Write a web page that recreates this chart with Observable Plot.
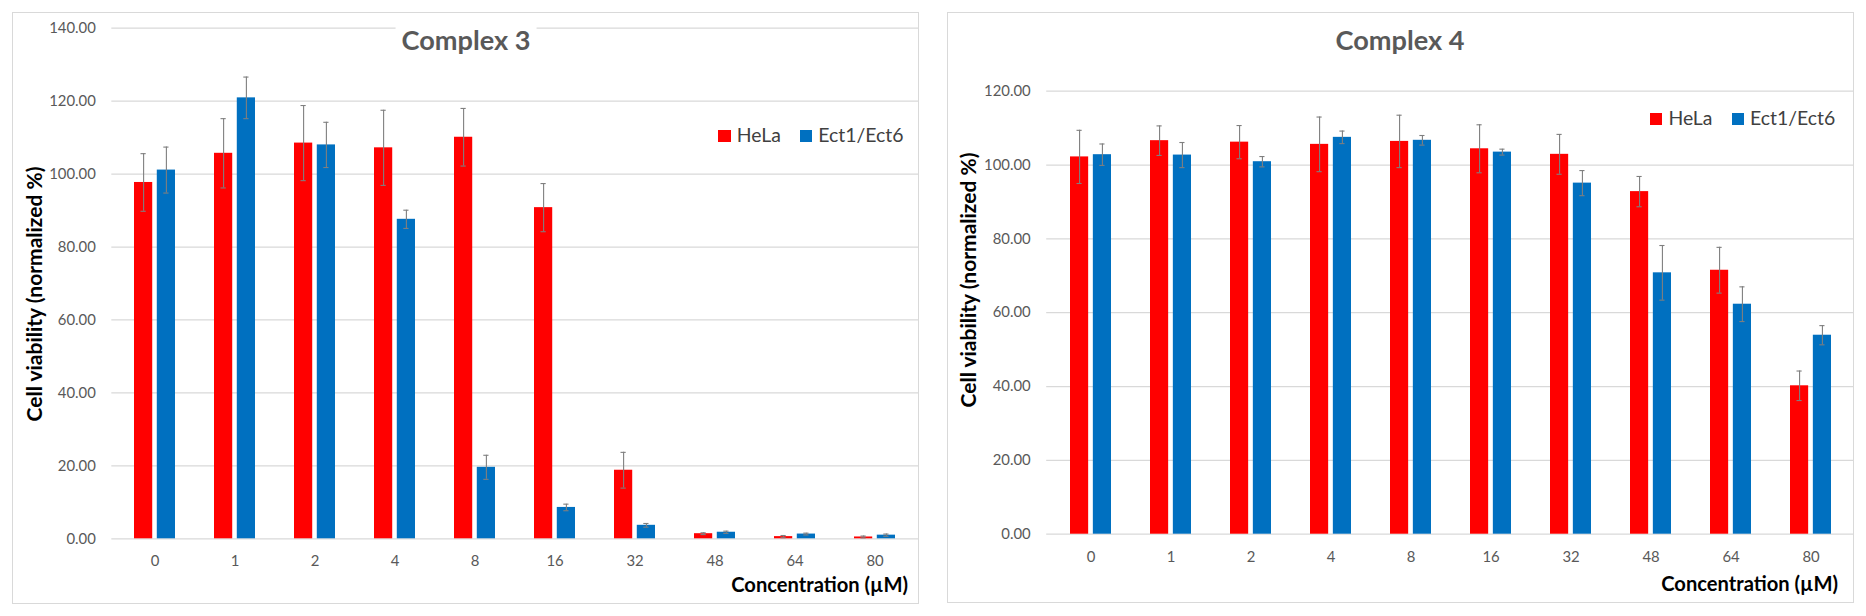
<!DOCTYPE html>
<html>
<head>
<meta charset="utf-8">
<script src="https://cdn.jsdelivr.net/npm/d3@7"></script>
<script src="https://cdn.jsdelivr.net/npm/@observablehq/plot@0.6"></script>
<style>
  html, body { margin: 0; padding: 0; background: #fff; }
  body { width: 1866px; height: 616px; position: relative; overflow: hidden; font-family: Lato, "Open Sans", sans-serif; }
  .frame { position: absolute; border: 1px solid #d9d9d9; box-sizing: border-box; }
  .chart { position: absolute; }
  .lbl { position: absolute; white-space: nowrap; line-height: 1; }
  .sq { position: absolute; }
</style>
</head>
<body>
<script>
// ---------- data ----------
const concentrations = ["0", "1", "2", "4", "8", "16", "32", "48", "64", "80"];
const seriesNames = ["HeLa", "Ect1/Ect6"];
const seriesColors = ["#ff0000", "#0070c0"];

const c3Hela    = [97.7, 105.7, 108.5, 107.2, 110.1, 90.8, 18.8, 1.4, 0.6, 0.5];
const c3HelaErr = [7.9, 9.5, 10.3, 10.3, 7.9, 6.6, 4.9, 0.25, 0.3, 0.25];
const c3Ect     = [101.1, 120.9, 108.0, 87.6, 19.6, 8.6, 3.7, 1.8, 1.3, 1.0];
const c3EctErr  = [6.3, 5.7, 6.2, 2.5, 3.3, 0.9, 0.5, 0.3, 0.25, 0.3];

const c4Hela    = [102.2, 106.6, 106.2, 105.6, 106.4, 104.4, 102.9, 92.8, 71.5, 40.2];
const c4HelaErr = [7.2, 4.0, 4.5, 7.4, 7.1, 6.5, 5.4, 4.1, 6.2, 4.0];
const c4Ect     = [102.8, 102.7, 100.9, 107.5, 106.7, 103.5, 95.1, 70.8, 62.3, 53.9];
const c4EctErr  = [2.9, 3.4, 1.4, 1.7, 1.3, 0.8, 3.4, 7.4, 4.7, 2.6];

const c3Ticks = [0, 20, 40, 60, 80, 100, 120, 140];
const c4Ticks = [0, 20, 40, 60, 80, 100, 120];

const yTitle = "Cell viability (normalized %)";
const xTitle = "Concentration (µM)";

// ---------- helpers ----------
const FONT = "Lato, 'Open Sans', sans-serif";
function measure(text, size, weight) {
  const s = document.createElement("span");
  s.style.cssText = `position:absolute;visibility:hidden;white-space:nowrap;font-family:${FONT};font-size:${size}px;font-weight:${weight};`;
  s.textContent = text;
  document.body.appendChild(s);
  const w = s.getBoundingClientRect().width;
  s.remove();
  return w;
}
function fitSize(text, targetWidth, weight) {
  return 20 * targetWidth / measure(text, 20, weight);
}
function addLabel(text, x, baseline, size, weight, color, anchor) {
  const d = document.createElement("div");
  d.className = "lbl";
  d.textContent = text;
  d.style.fontSize = size + "px";
  d.style.fontWeight = weight;
  d.style.color = color;
  d.style.top = (baseline - 0.887 * size) + "px";
  if (anchor === "end") { d.style.right = (1866 - x) + "px"; }
  else if (anchor === "middle") { d.style.left = x + "px"; d.style.transform = "translateX(-50%)"; }
  else { d.style.left = x + "px"; }
  document.body.appendChild(d);
  return d;
}
function addRotated(text, cx, cy, size) {
  const d = document.createElement("div");
  d.className = "lbl";
  d.textContent = text;
  d.style.fontSize = size + "px";
  d.style.fontWeight = "bold";
  d.style.color = "#000";
  d.style.left = cx + "px";
  d.style.top = cy + "px";
  d.style.transform = "translate(-50%,-50%) rotate(-90deg)";
  document.body.appendChild(d);
}
function addSquare(x, y, s, color) {
  const d = document.createElement("div");
  d.className = "sq";
  Object.assign(d.style, {left: x + "px", top: y + "px", width: s + "px", height: s + "px", background: color});
  document.body.appendChild(d);
}

const tickSize = fitSize("100.00", 46.7, "normal");
const titleSize = fitSize("Complex 3", 129, "bold");
const legendSize = (fitSize("HeLa", 44.3, "normal") + fitSize("Ect1/Ect6", 85, "normal")) / 2;
const xTitleSize = fitSize(xTitle, 177, "bold");
const yTitleSize = fitSize(yTitle, 255, "bold");

function panel(o) {
  const fr = document.createElement("div");
  fr.className = "frame";
  Object.assign(fr.style, {left: o.left + "px", top: o.top + "px", width: o.w + "px", height: o.h + "px"});
  document.body.appendChild(fr);

  const rows = concentrations.map((c, i) => ({c, hela: o.hela[i], helaErr: o.helaErr[i], ect: o.ect[i], ectErr: o.ectErr[i]}));
  const pIn = 0.487;
  const bw = (o.w - o.ml - o.mr) / concentrations.length * (1 - pIn);
  const barW = 18.6;
  const ins = bw - barW;
  const off = bw / 2 - barW / 2;
  const capHalf = 2.8;
  const capNear = barW / 2 - capHalf;
  const capFar = bw - barW / 2 - capHalf;
  const errColor = "#7f7f7f";

  const chart = Plot.plot({
    width: o.w, height: o.h,
    marginTop: o.mt, marginBottom: o.mb, marginLeft: o.ml, marginRight: o.mr,
    style: {fontFamily: FONT, fontSize: tickSize + "px", color: "#595959", background: "transparent", overflow: "visible"},
    x: {domain: concentrations, paddingInner: pIn, paddingOuter: pIn / 2, label: null, tickSize: 0, tickPadding: 17},
    y: {domain: [0, o.ticks[o.ticks.length - 1]], ticks: o.ticks, tickFormat: d => d.toFixed(2), tickSize: 0, tickPadding: 16, label: null},
    marks: [
      Plot.ruleY(o.ticks, {stroke: "#d9d9d9", strokeWidth: 1.3}),
      Plot.barY(rows, {x: "c", y: "hela", fill: seriesColors[0], insetRight: ins}),
      Plot.barY(rows, {x: "c", y: "ect", fill: seriesColors[1], insetLeft: ins}),
      Plot.ruleX(rows, {x: "c", y1: d => d.hela - d.helaErr, y2: d => d.hela + d.helaErr, dx: -off, stroke: errColor, strokeWidth: 1.1}),
      Plot.ruleX(rows, {x: "c", y1: d => d.ect - d.ectErr, y2: d => d.ect + d.ectErr, dx: off, stroke: errColor, strokeWidth: 1.1}),
      Plot.tickY(rows, {x: "c", y: d => d.hela + d.helaErr, insetLeft: capNear, insetRight: capFar, stroke: errColor, strokeWidth: 1.1}),
      Plot.tickY(rows, {x: "c", y: d => d.hela - d.helaErr, insetLeft: capNear, insetRight: capFar, stroke: errColor, strokeWidth: 1.1}),
      Plot.tickY(rows, {x: "c", y: d => d.ect + d.ectErr, insetLeft: capFar, insetRight: capNear, stroke: errColor, strokeWidth: 1.1}),
      Plot.tickY(rows, {x: "c", y: d => d.ect - d.ectErr, insetLeft: capFar, insetRight: capNear, stroke: errColor, strokeWidth: 1.1})
    ]
  });
  chart.classList.add("chart");
  chart.style.left = o.left + "px";
  chart.style.top = o.top + "px";
  document.body.appendChild(chart);

  // title with white background
  const t = addLabel(o.title, o.titleX, 50, titleSize, "bold", "#595959", "middle");
  t.style.background = "#fff";
  t.style.padding = "6px 6px 4px 6px";
  t.style.top = (50 - 0.887 * titleSize - 6) + "px";

  // legend
  addSquare(o.legX, o.legY, 12.3, seriesColors[0]);
  addLabel(seriesNames[0], o.legX + 18.4, o.legY + 12.5, legendSize, "normal", "#404040", "start");
  addSquare(o.legX + 81.7, o.legY, 12.3, seriesColors[1]);
  addLabel(seriesNames[1], o.legX + 100, o.legY + 12.5, legendSize, "normal", "#404040", "start");

  // axis titles
  addLabel(xTitle, o.xtX, o.xtY, xTitleSize, "bold", "#000", "end");
  addRotated(yTitle, o.ytX, o.ytY, yTitleSize);
}

panel({left: 12, top: 12, w: 907, h: 592, mt: 15.7, mb: 65.7, ml: 99.3, mr: 1,
  ticks: c3Ticks, hela: c3Hela, helaErr: c3HelaErr, ect: c3Ect, ectErr: c3EctErr,
  title: "Complex 3", titleX: 466, legX: 718.3, legY: 130.2, xtX: 908, xtY: 591.5, ytX: 32.5, ytY: 293.5});

panel({left: 947, top: 12, w: 907, h: 591, mt: 78.7, mb: 69.3, ml: 99.2, mr: 0,
  ticks: c4Ticks, hela: c4Hela, helaErr: c4HelaErr, ect: c4Ect, ectErr: c4EctErr,
  title: "Complex 4", titleX: 1400, legX: 1650, legY: 112.5, xtX: 1838, xtY: 591, ytX: 966.7, ytY: 280});
</script>
</body>
</html>
